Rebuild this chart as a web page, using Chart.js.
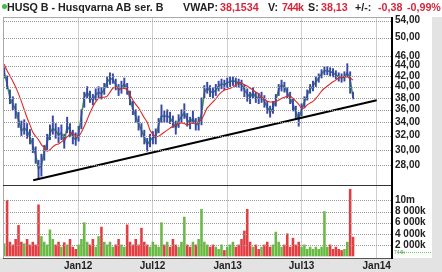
<!DOCTYPE html>
<html><head><meta charset="utf-8">
<script src="https://cdn.jsdelivr.net/npm/chart.js@4.4.1/dist/chart.umd.min.js"></script>
<style>
html,body{margin:0;padding:0;background:#fff;}
#wrap{position:relative;width:442px;height:272px;overflow:hidden;}
#c{position:absolute;left:0;top:0;}
.t{position:absolute;top:1px;font:bold 10.7px "Liberation Sans",Arial,sans-serif;color:#222;white-space:pre;line-height:12px;}
.r{color:#d3283c;}
.n{letter-spacing:-0.6px;}
.dot{position:absolute;left:2px;top:4px;width:5px;height:5px;border-radius:50%;background:#3fbf3f;}
</style></head><body>
<div id="wrap">
<canvas id="c" width="442" height="272"></canvas>
<div class="dot"></div>
<div class="t" style="left:7px">HUSQ B - Husqvarna AB ser. B</div>
<div class="t" style="left:183px">VWAP:</div>
<div class="t r" style="left:220px">38,1534</div>
<div class="t" style="left:268px">V:</div>
<div class="t r n" style="left:282px">744k</div>
<div class="t" style="left:308px">S:</div>
<div class="t r" style="left:321px">38,13</div>
<div class="t" style="left:355px">+/-:</div>
<div class="t r" style="left:378px">-0,38</div>
<div class="t r" style="left:407px">-0,99%</div>
</div>
<script>
// ---------- data (weekly) ----------
const dates = [
'2011-07-04','2011-07-11','2011-07-18','2011-07-25','2011-08-01','2011-08-08','2011-08-15','2011-08-22','2011-08-29','2011-09-05','2011-09-12','2011-09-19','2011-09-26','2011-10-03','2011-10-10','2011-10-17','2011-10-24','2011-10-31','2011-11-07','2011-11-14','2011-11-21','2011-11-28','2011-12-05','2011-12-12','2011-12-19','2011-12-26',
'2012-01-02','2012-01-09','2012-01-16','2012-01-23','2012-01-30','2012-02-06','2012-02-13','2012-02-20','2012-02-27','2012-03-05','2012-03-12','2012-03-19','2012-03-26','2012-04-02','2012-04-09','2012-04-16','2012-04-23','2012-04-30','2012-05-07','2012-05-14','2012-05-21','2012-05-28','2012-06-04','2012-06-11','2012-06-18','2012-06-25','2012-07-02','2012-07-09','2012-07-16','2012-07-23','2012-07-30','2012-08-06','2012-08-13','2012-08-20','2012-08-27','2012-09-03','2012-09-10','2012-09-17','2012-09-24','2012-10-01','2012-10-08','2012-10-15','2012-10-22','2012-10-29','2012-11-05','2012-11-12','2012-11-19','2012-11-26','2012-12-03','2012-12-10','2012-12-17','2012-12-24','2012-12-31',
'2013-01-07','2013-01-14','2013-01-21','2013-01-28','2013-02-04','2013-02-11','2013-02-18','2013-02-25','2013-03-04','2013-03-11','2013-03-18','2013-03-25','2013-04-01','2013-04-08','2013-04-15','2013-04-22','2013-04-29','2013-05-06','2013-05-13','2013-05-20','2013-05-27','2013-06-03','2013-06-10','2013-06-17','2013-06-24','2013-07-01','2013-07-08','2013-07-15','2013-07-22','2013-07-29','2013-08-05','2013-08-12','2013-08-19','2013-08-26','2013-09-02','2013-09-09','2013-09-16','2013-09-23','2013-09-30','2013-10-07','2013-10-14','2013-10-21','2013-10-28','2013-11-04'];

const close = [42.6,40.5,38.0,36.9,36.0,34.4,32.7,33.1,32.7,31.8, 30.6,29.3,27.5,28.0,29.7,31.0,32.4,33.1,32.7,32.1, 32.4,31.0,33.4,32.8,31.8,31.4,32.2,35.1,38.1,39.0, 38.1,37.6,38.5,39.0,38.7,39.6,40.9,41.4,41.4,40.3, 39.4,39.7,40.5,39.6,37.8,36.1,34.9,33.8,32.8,31.8, 30.7,31.3,31.7,31.8,33.6,35.0,34.9,35.0,34.7,34.0, 33.1,34.2,34.9,35.5,34.4,33.9,34.7,33.6,33.8,35.3, 38.9,39.8,39.2,38.9,39.4,40.1,40.5,40.3,40.7,40.9, 41.1,40.9,40.7,40.3,39.4,38.7,38.1,38.9,38.1,38.0, 38.1,37.4,36.4,35.6,36.3,37.6,39.4,40.3,39.9,38.9, 38.0,36.9,35.6,34.5,36.0,37.3,38.5,39.6,40.1,40.9, 41.6,42.4,43.0,43.0,42.8,42.6,42.2,41.8,41.6,41.8, 42.6,41.2,38.13];

const high = [43.6,42.0,39.4,38.2,37.0,35.6,34.2,34.4,33.8,32.9, 31.6,30.4,28.6,29.4,30.6,32.2,33.6,35.0,33.8,33.2, 33.6,32.2,34.8,33.8,32.8,32.4,33.4,36.0,39.0,40.0, 39.2,38.6,39.6,40.0,39.8,40.6,41.8,42.6,42.4,41.4, 40.4,41.0,41.6,40.6,39.2,37.4,36.0,35.0,33.8,32.8, 31.6,32.2,32.6,33.0,34.6,36.8,35.8,36.0,35.6,35.0, 34.2,35.2,36.0,37.0,35.4,34.8,35.8,34.6,34.8,38.0, 40.2,40.8,40.2,39.8,40.4,41.0,41.4,41.2,41.6,41.8, 41.8,41.6,41.4,41.2,40.4,39.6,39.0,39.8,39.0,38.8, 39.0,38.4,37.4,36.6,37.4,38.6,40.4,41.2,40.8,39.8, 39.0,37.8,36.6,35.6,37.0,38.2,39.4,40.4,41.0,41.8, 42.4,43.2,43.8,43.8,43.6,43.4,43.0,42.6,42.4,42.8, 44.4,42.8,39.0];

const low = [41.6,39.6,37.0,36.0,34.6,33.2,32.0,32.2,31.6,30.8, 29.6,28.2,26.2,26.6,28.6,30.0,31.4,32.2,31.6,31.0, 31.4,30.2,32.4,31.8,30.8,30.6,31.2,33.0,36.4,38.0, 37.2,36.8,37.6,38.0,37.8,38.6,39.8,40.4,40.6,39.4, 38.4,38.8,39.6,38.6,36.8,35.2,34.0,32.8,31.8,30.8, 29.8,30.4,30.8,30.8,32.4,34.0,34.0,34.0,33.8,33.2, 32.2,33.2,34.0,34.6,33.4,33.0,33.8,32.8,32.8,33.6, 38.0,38.8,38.2,38.0,38.4,39.2,39.6,39.4,39.8,40.0, 40.2,40.0,39.8,39.2,38.2,37.4,37.0,38.0,37.2,37.0, 37.2,36.4,35.4,34.8,35.4,36.6,38.4,39.2,39.0,38.0, 37.0,35.8,34.6,33.4,35.0,36.4,37.6,38.8,39.2,40.0, 40.8,41.6,42.2,42.2,42.0,41.8,41.4,41.0,40.8,41.0, 41.8,38.8,37.8];

const movingAvg = [44.3,43.0,42.0,41.0,39.9,38.7,37.4,36.0,34.7,33.6, 32.5,31.9,31.4,30.7,30.3,29.8,30.0,30.4,30.7,30.8, 31.1,31.4,31.8,32.2,32.4,31.9,31.9,32.5,33.4,34.4, 35.5,36.5,37.3,37.9,38.1,38.1,38.3,39.0,39.7,39.9, 39.7,39.7,39.7,39.4,38.5,37.6,36.9,36.3,35.5,34.7, 34.0,32.8,32.2,31.9,31.9,32.2,32.5,32.8,33.1,33.4, 33.6,33.8,33.9,33.8,33.6,33.8,33.9,33.9,34.1,34.4, 35.3,36.3,36.8,37.3,37.8,38.5,39.0,39.4,39.5,39.7, 39.9,40.3,40.7,40.7,40.3,40.1,39.7,39.4,39.0,38.7, 38.1,37.8,37.4,37.3,37.3,37.4,37.6,37.9,38.1,38.3, 38.3,37.9,37.4,36.9,36.3,36.3,36.8,37.1,37.4,37.9, 38.5,39.2,39.7,40.1,40.5,40.9,41.2,41.6,41.8,41.8, 41.8,41.6,41.2];

// volume in millions of shares
const volumeM = [2.2,10.0,2.5,2.0,3.0,5.5,2.5,2.2,3.0,2.0, 2.5,2.0,9.2,3.5,2.5,2.0,4.7,3.0,2.0,2.5, 1.6,2.4,2.0,3.0,1.6,1.2,2.0,3.0,6.0,2.5, 2.0,3.0,1.6,3.5,5.2,2.5,2.0,2.5,1.6,2.0, 3.0,2.0,1.6,5.6,2.5,2.0,3.0,2.0,5.0,2.5, 2.0,1.6,2.5,2.0,1.6,6.0,2.0,2.5,1.6,3.0, 2.0,1.6,2.5,7.0,2.0,1.6,2.5,2.0,3.0,8.4, 2.5,2.0,1.6,2.0,1.6,1.2,2.0,1.0,1.6,2.0, 2.5,1.6,2.0,3.0,4.5,8.4,2.5,1.6,2.0,1.2, 1.6,2.0,2.5,1.6,2.0,4.3,2.5,1.6,2.0,4.0, 1.6,3.2,2.0,2.5,1.6,2.0,1.2,1.6,1.2,1.6, 1.2,1.6,8.0,1.6,2.0,1.2,1.6,1.2,1.0,1.2, 2.5,12.0,3.4];
const lastVolumeM = 0.744;
const lastVolumeLabel = '744k';

const trendDates = ['2011-09-13','2014-01-01'];
const trendValues = [26.1, 37.6];

const xTickDates = ['2012-01-01','2012-07-01','2013-01-01','2013-07-01','2014-01-01'];
const xTickLabels = ['Jan12','Jul12','Jan13','Jul13','Jan14'];
const priceTicks = [28,30,32,34,36,38,40,42,44,46,50,54];
const volTicks = [2,4,6,8,10];
const volTickLabels = ['2 000k','4 000k','6 000k','8 000k','10m'];
const xRange = ['2011-07-01','2014-02-05'];

// ---------- build ----------
const DAY0 = Date.parse(xRange[0]);
const toDay = d => Math.round((Date.parse(d) - DAY0) / 864e5);
const xs = dates.map(toDay);

const RED = 'rgba(224,40,44,0.9)', GREEN = 'rgba(88,178,46,0.9)', BLUE = '#3848aa', LINEGREEN = '#3c9c3c';
const FONT = '"Liberation Sans", Arial, sans-serif';
Chart.defaults.font.family = FONT;

const volColors = close.map((c, i) => (i > 0 && c < close[i - 1]) ? RED : GREEN);

function drawHGrid(chart) {
  const {ctx, chartArea: a, scales} = chart;
  ctx.save();
  ctx.strokeStyle = '#999999';
  ctx.lineWidth = 1;
  ctx.setLineDash([1, 1]);
  [scales.y, scales.yv].forEach(s => {
    priceOrVolTicks(s).forEach(v => {
      const py = Math.round(s.getPixelForValue(v)) + 0.5;
      if (!(py >= s.top && py <= s.bottom)) return;
      ctx.beginPath(); ctx.moveTo(a.left + 1, py); ctx.lineTo(a.right, py); ctx.stroke();
    });
  });
  ctx.restore();
}
function priceOrVolTicks(s) { return s.id === 'y' ? priceTicks : volTicks; }

const framePlugin = {
  id: 'frame',
  beforeDraw(chart) {
    const {ctx, chartArea: a} = chart;
    ctx.save();
    ctx.fillStyle = '#ffffff';
    ctx.fillRect(0, 0, chart.width, chart.height);
    ctx.fillStyle = '#e3e3e3';
    ctx.fillRect(0, a.bottom, chart.width, chart.height - a.bottom);
    ctx.fillRect(432, a.top, chart.width - 432, chart.height - a.top);
    ctx.restore();
  },
  afterDraw(chart) {
    const {ctx, chartArea: a, scales} = chart;
    const yp = scales.y, yv = scales.yv;
    drawHGrid(chart);
    ctx.save();
    ctx.strokeStyle = '#a8a8a8';
    ctx.lineWidth = 1;
    ctx.beginPath();
    ctx.moveTo(a.left + 0.5, yp.top); ctx.lineTo(a.left + 0.5, a.bottom);
    ctx.moveTo(a.left, yp.top + 0.5); ctx.lineTo(a.right, yp.top + 0.5);
    ctx.stroke();
    ctx.strokeStyle = '#333';
    ctx.beginPath();
    ctx.moveTo(a.left, yv.top + 0.5); ctx.lineTo(a.right, yv.top + 0.5);
    ctx.stroke();
    ctx.strokeStyle = '#000';
    ctx.lineWidth = 2;
    ctx.beginPath();
    ctx.moveTo(a.right + 1, yp.top); ctx.lineTo(a.right + 1, a.bottom + 1);
    ctx.stroke();
    // last volume marker
    ctx.lineWidth = 1;
    const py = Math.round(yv.getPixelForValue(lastVolumeM)) + 0.5;
    ctx.strokeStyle = '#66cc55';
    ctx.setLineDash([1, 1]);
    ctx.beginPath(); ctx.moveTo(a.right + 9, py); ctx.lineTo(432, py); ctx.stroke();
    ctx.setLineDash([]);
    ctx.fillStyle = '#44aa44';
    ctx.font = '5px ' + FONT;
    ctx.textBaseline = 'middle';
    ctx.fillText(lastVolumeLabel, a.right + 3, py);
    ctx.restore();
  }
};

new Chart(document.getElementById('c'), {
  type: 'bar',
  data: {
    datasets: [
      { type: 'line', label: 'Trend', data: trendDates.map((d, i) => ({x: toDay(d), y: trendValues[i]})),
        yAxisID: 'y', borderColor: '#000', borderWidth: 2, pointRadius: 0, order: 0 },
      { type: 'line', label: 'MA', data: xs.map((x, i) => ({x, y: movingAvg[i]})),
        yAxisID: 'y', borderColor: '#e02626', borderWidth: 1.1, pointRadius: 0, tension: 0.3, order: 1 },
      { type: 'bar', label: 'High-Low', data: xs.map((x, i) => ({x, y: [low[i], high[i]]})),
        yAxisID: 'y', backgroundColor: BLUE, barThickness: 1.3, grouped: false, order: 2 },
      { type: 'line', label: 'Close', data: xs.map((x, i) => ({x, y: close[i]})),
        yAxisID: 'y', borderColor: LINEGREEN, borderWidth: 1.6, pointRadius: 0, order: 3 },
      { type: 'bar', label: 'Volume', data: xs.map((x, i) => ({x, y: volumeM[i]})),
        yAxisID: 'yv', backgroundColor: volColors, barThickness: 1.9, grouped: false, order: 4 }
    ]
  },
  options: {
    responsive: false, animation: false, devicePixelRatio: 1,
    layout: { padding: { left: 3, top: 17, right: 0, bottom: 0 } },
    plugins: { legend: { display: false }, tooltip: { enabled: false } },
    scales: {
      x: {
        type: 'linear', min: toDay(xRange[0]), max: toDay(xRange[1]), offset: false,
        afterBuildTicks: s => { s.ticks = xTickDates.map(d => ({value: toDay(d)})); },
        afterFit: s => { s.height = 14; },
        grid: { color: '#cfcfcf', lineWidth: 1, drawTicks: false, offset: false },
        border: { display: true, color: '#555', width: 1 },
        ticks: { callback: (v, i) => xTickLabels[i], font: { size: 10, weight: 'bold' }, color: '#222',
                 padding: 2, maxRotation: 0, autoSkip: false }
      },
      y: {
        type: 'logarithmic', position: 'right', stack: 'panels', stackWeight: 168,
        min: 25.55, max: 54.92,
        afterBuildTicks: s => { s.ticks = priceTicks.map(v => ({value: v})); },
        afterFit: s => { s.width = 51; },
        grid: { display: false, drawTicks: false },
        border: { display: false },
        ticks: { callback: v => v.toFixed(2).replace('.', ','), font: { size: 10, weight: 'bold' }, color: '#222', padding: 4, autoSkip: false }
      },
      yv: {
        type: 'linear', position: 'right', stack: 'panels', stackWeight: 73,
        min: -0.36, max: 12.77,
        afterBuildTicks: s => { s.ticks = volTicks.map(v => ({value: v})); },
        afterFit: s => { s.width = 51; },
        grid: { display: false, drawTicks: false },
        border: { display: false },
        ticks: { callback: (v, i) => volTickLabels[i], font: { size: 10, weight: 'bold' }, color: '#222', padding: 4, autoSkip: false }
      }
    }
  },
  plugins: [framePlugin]
});
</script>
</body></html>
